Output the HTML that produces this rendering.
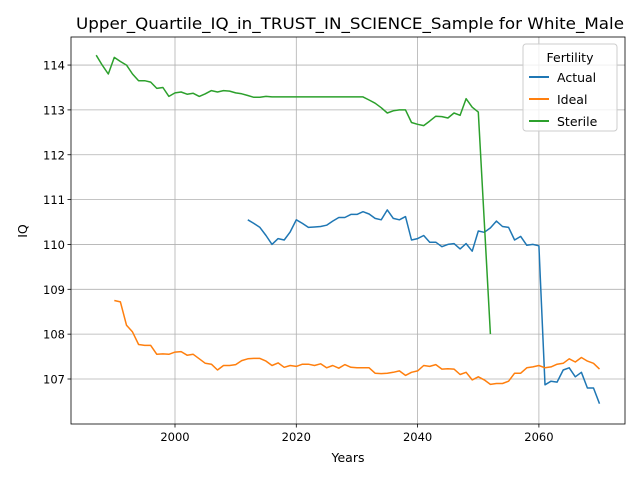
<!DOCTYPE html>
<html><head><meta charset="utf-8"><style>
body{margin:0;background:#fff;}
svg{font-family:"DejaVu Sans","Liberation Sans",sans-serif;}
</style></head><body>
<svg id="chart" width="640" height="480" viewBox="0 0 640 480">
<text x="350" y="29" text-anchor="middle" font-size="16" textLength="548" lengthAdjust="spacingAndGlyphs">Upper_Quartile_IQ_in_TRUST_IN_SCIENCE_Sample for White_Male</text>
<g id="grid"></g><g id="series"></g><g id="axes"></g>
<text x="348" y="462" text-anchor="middle" font-size="12.5">Years</text>
<text x="27" y="231" text-anchor="middle" font-size="12.5" transform="rotate(-90 27 231)">IQ</text>
<g>
<rect x="523" y="44" width="94" height="87" rx="3" fill="#fff" fill-opacity="0.8" stroke="#ccc"/>
<text x="570" y="62" text-anchor="middle" font-size="12.5">Fertility</text>
<g><line x1="529" x2="549" y1="77" y2="77" stroke="#1f77b4" stroke-width="2"/><text x="557" y="82" font-size="12.5">Actual</text></g>
<g><line x1="529" x2="549" y1="99" y2="99" stroke="#ff7f0e" stroke-width="2"/><text x="557" y="104" font-size="12.5">Ideal</text></g>
<g><line x1="529" x2="549" y1="121" y2="121" stroke="#2ca02c" stroke-width="2"/><text x="557" y="126" font-size="12.5">Sterile</text></g>
</g>
</svg>
<script>
const xTicks=[2000,2020,2040,2060];
const yTicks=[107,108,109,110,111,112,113,114];
const sterileStart=1987;
const sterile=[114.22,114.0,113.8,114.17,114.08,114.0,113.8,113.65,113.65,113.62,113.48,113.5,113.3,113.38,113.4,113.35,113.37,113.3,113.36,113.43,113.4,113.43,113.42,113.38,113.36,113.32,113.28,113.28,113.3,113.29,113.29,113.29,113.29,113.29,113.29,113.29,113.29,113.29,113.29,113.29,113.29,113.29,113.29,113.29,113.29,113.22,113.15,113.05,112.93,112.98,113.0,113.0,112.72,112.68,112.65,112.75,112.86,112.85,112.82,112.93,112.88,113.25,113.06,112.95,110.5,108.0];
const actualStart=2012;
const actual=[110.55,110.47,110.38,110.2,110.0,110.13,110.1,110.28,110.55,110.47,110.38,110.39,110.4,110.43,110.52,110.6,110.6,110.67,110.67,110.73,110.68,110.58,110.55,110.77,110.58,110.55,110.62,110.1,110.13,110.2,110.05,110.05,109.95,110.0,110.02,109.9,110.02,109.85,110.3,110.27,110.37,110.52,110.4,110.38,110.1,110.18,109.98,110.0,109.97,106.87,106.95,106.93,107.2,107.25,107.05,107.15,106.8,106.8,106.45];
const idealStart=1990;
const ideal=[108.75,108.72,108.2,108.05,107.77,107.75,107.75,107.55,107.56,107.55,107.6,107.61,107.53,107.55,107.45,107.35,107.33,107.2,107.3,107.3,107.32,107.41,107.45,107.46,107.46,107.4,107.3,107.36,107.26,107.3,107.28,107.33,107.33,107.3,107.34,107.25,107.3,107.24,107.32,107.26,107.25,107.25,107.25,107.13,107.12,107.13,107.15,107.18,107.08,107.15,107.18,107.3,107.28,107.32,107.22,107.23,107.22,107.1,107.15,106.98,107.05,106.98,106.88,106.9,106.9,106.95,107.13,107.13,107.25,107.27,107.3,107.25,107.27,107.33,107.35,107.45,107.38,107.48,107.4,107.35,107.22];
const L=71,R=625,T=37,B=424;
const X=y=>175+(y-2000)*6.065;
const Y=v=>379-(v-107)*44.85;
const NS="http://www.w3.org/2000/svg";
function mk(tag,attrs,parent){const e=document.createElementNS(NS,tag);for(const k in attrs)e.setAttribute(k,attrs[k]);parent.appendChild(e);return e;}
const grid=document.getElementById('grid'),axes=document.getElementById('axes'),ser=document.getElementById('series');
xTicks.forEach(t=>{const x=X(t);
 const g=mk('line',{x1:x,x2:x,y1:T,y2:B,stroke:'#b0b0b0','stroke-width':0.8},grid);
 
 
 mk('line',{x1:x,x2:x,y1:B,y2:B+3.5,stroke:'#000','stroke-width':0.8},axes);
 const tx=mk('text',{x:x,y:B+17,'text-anchor':'middle','font-size':11.5},axes);tx.textContent=t;
 
 
});
yTicks.forEach(t=>{const y=Y(t);
 const g=mk('line',{x1:L,x2:R,y1:y,y2:y,stroke:'#b0b0b0','stroke-width':0.8},grid);
 
 
 mk('line',{x1:L-3.5,x2:L,y1:y,y2:y,stroke:'#000','stroke-width':0.8},axes);
 const tx=mk('text',{x:L-6,y:y+4.5,'text-anchor':'end','font-size':11.5},axes);tx.textContent=t;
 
 
});
const fr=mk('rect',{x:L,y:T,width:R-L,height:B-T,fill:'none',stroke:'#000','stroke-width':0.8},axes);


function line(data,start,color,name){
 const p=mk('polyline',{points:data.map((v,i)=>X(start+i).toFixed(1)+','+Y(v).toFixed(1)).join(' '),fill:'none',stroke:color,'stroke-width':1.5,'stroke-linejoin':'round'},ser);
 
 
}
line(actual,actualStart,'#1f77b4','actual-line');
line(ideal,idealStart,'#ff7f0e','ideal-line');
line(sterile,sterileStart,'#2ca02c','sterile-line');
</script>
</body></html>
